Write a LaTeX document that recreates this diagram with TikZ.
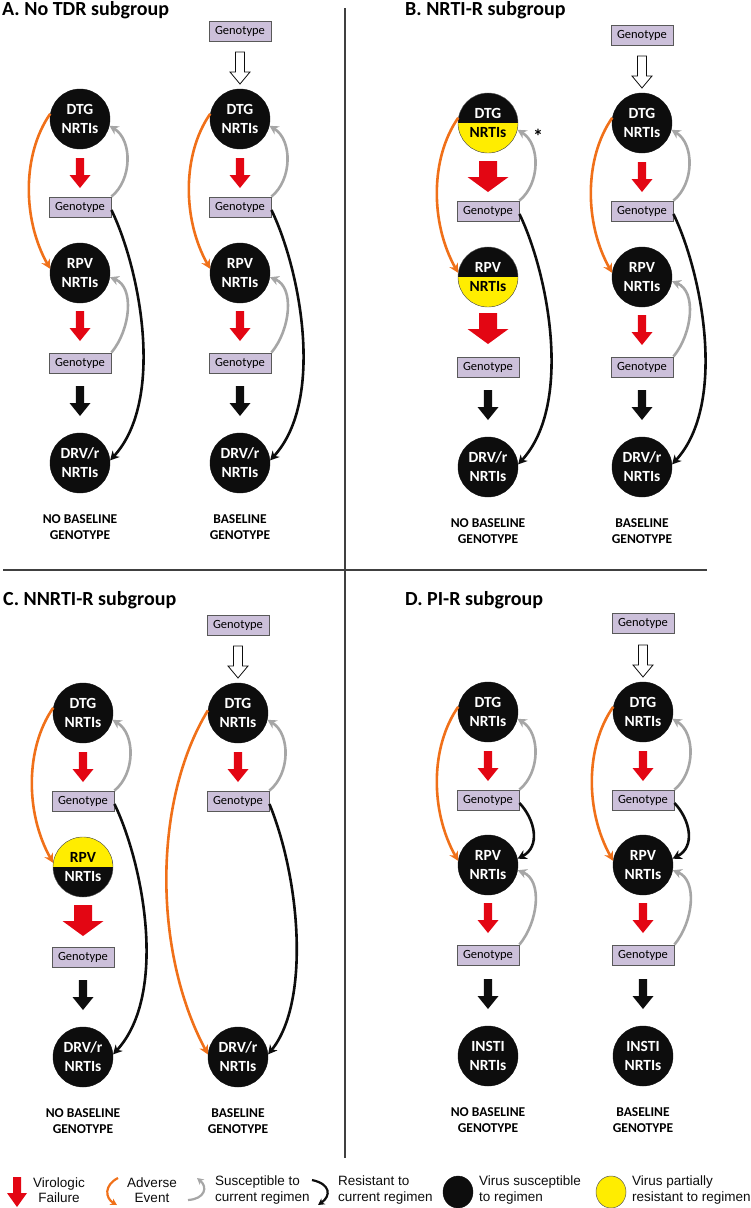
\documentclass[tikz,border=0pt]{standalone}
\usepackage{fontspec}
\setmainfont{Carlito}
\newfontfamily\legfont{Liberation Sans}
\usetikzlibrary{arrows.meta,calc,shapes.geometric}
\definecolor{vred}{RGB}{227,6,19}
\definecolor{vorange}{RGB}{240,112,25}
\definecolor{vgray}{RGB}{166,166,166}
\definecolor{vlav}{RGB}{204,192,218}
\definecolor{vbord}{RGB}{89,89,89}
\definecolor{vyellow}{RGB}{255,237,0}
\definecolor{vblack}{RGB}{13,13,13}
\definecolor{vline}{RGB}{64,64,64}
\tikzset{
 drug/.style={circle, minimum size=60pt, inner sep=0pt, fill=vblack, draw=vblack, line width=0.4pt,
   text=white, align=center, font=\fontsize{15.5}{19}\selectfont\bfseries},
 halfbot/.style={drug, draw=vbord, path picture={\fill[vyellow] (path picture bounding box.south west) rectangle (path picture bounding box.east);}},
 halftop/.style={drug, draw=vbord, path picture={\fill[vyellow] (path picture bounding box.north west) rectangle (path picture bounding box.east);}},
 geno/.style={rectangle, draw=vbord, fill=vlav, line width=0.9pt, minimum width=62pt, minimum height=20pt,
   inner sep=0pt, font=\fontsize{12.5}{14}\selectfont},
 paneltitle/.style={anchor=base west, inner sep=0pt, font=\fontsize{20}{24}\selectfont\bfseries},
 baselab/.style={align=center, inner sep=0pt, font=\fontsize{13.5}{16}\selectfont\bfseries},
 conn/.style={line width=2.6pt, -{Stealth[length=9pt,width=9.5pt,inset=2.8pt]}},
 ae/.style={conn, draw=vorange, color=vorange},
 sus/.style={conn, draw=vgray, color=vgray},
 res/.style={conn, draw=vblack, color=vblack},
 divline/.style={draw=vline, line width=1.8pt},
 legtxt/.style={inner sep=0pt, text=vblack, font=\legfont\fontsize{13.5}{15.5}\selectfont},
 pics/vfa/.style={code={\fill[vred] (-4.2,0)--(4.2,0)--(4.2,17)--(10.5,17)--(0,30)--(-10.5,17)--(-4.2,17)--cycle;}},
 pics/vfbig/.style={code={\fill[vred] (-9,0)--(9,0)--(9,16)--(20.5,16)--(0,31)--(-20.5,16)--(-9,16)--cycle;}},
 pics/nxt/.style={code={\fill[vblack] (-4.2,0)--(4.2,0)--(4.2,17)--(10.5,17)--(0,30)--(-10.5,17)--(-4.2,17)--cycle;}},
 pics/hollowarr/.style={code={\draw[vblack, fill=white, line width=0.8pt] (-4.5,0)--(4.5,0)--(4.5,20)--(10,20)--(0,32)--(-10,20)--(-4.5,20)--cycle;}},
 pics/legvf/.style={code={\fill[vred] (-4,0)--(4,0)--(4,16)--(10,16)--(0,30)--(-10,16)--(-4,16)--cycle;}},
}
\begin{document}
\begin{tikzpicture}[x=1pt,y=-1pt]
\useasboundingbox (0,0) rectangle (750,1208);

% dividers
\draw[divline] (345,8) -- (345,1158);
\draw[divline] (3,570) -- (707,570);

% ---------------- Panel A ----------------
\node[paneltitle] (tA) at (2,15) {A. No TDR subgroup};
% left column
\node[drug] (al1) at (80,119) {DTG\\NRTIs};
\pic at (80,158) {vfa};
\node[geno] (alg1) at (80,207) {Genotype};
\node[drug] (al2) at (80,273) {RPV\\NRTIs};
\pic at (80,311) {vfa};
\node[geno] (alg2) at (80,363) {Genotype};
\pic at (80,386) {nxt};
\node[drug] (al3) at (80,463) {DRV/r\\NRTIs};
\node[baselab] (allab) at (80,527) {NO BASELINE\\GENOTYPE};
\draw[ae] (al1.170) .. controls +(-28,40) and +(-28,-50) .. (al2.172);
\draw[sus] (alg1.north east) .. controls +(21,-17) and +(23,14) .. (al1.-13);
\draw[res] ([yshift=-3pt]alg1.east) .. controls +(29,60) and +(55,-60) .. (al3.5);
\draw[sus] (alg2.north east) .. controls +(19,-23) and +(25,10) .. (al2.-8);
% right column
\node[geno] (ar0) at (240,31) {Genotype};
\pic at (240,52) {hollowarr};
\node[drug] (ar1) at (240,119) {DTG\\NRTIs};
\pic at (240,158) {vfa};
\node[geno] (arg1) at (240,207) {Genotype};
\node[drug] (ar2) at (240,273) {RPV\\NRTIs};
\pic at (240,311) {vfa};
\node[geno] (arg2) at (240,363) {Genotype};
\pic at (240,386) {nxt};
\node[drug] (ar3) at (240,463) {DRV/r\\NRTIs};
\node[baselab] (arlab) at (240,527) {BASELINE\\GENOTYPE};
\draw[ae] (ar1.170) .. controls +(-28,40) and +(-28,-50) .. (ar2.172);
\draw[sus] (arg1.north east) .. controls +(21,-17) and +(23,14) .. (ar1.-13);
\draw[res] ([yshift=-3pt]arg1.east) .. controls +(29,60) and +(55,-60) .. (ar3.5);
\draw[sus] (arg2.north east) .. controls +(19,-23) and +(25,10) .. (ar2.-8);

% ---------------- Panel B ----------------
\node[paneltitle] (tB) at (405,15) {B. NRTI-R subgroup};
% left column
\node[halfbot] (bl1) at (488,123) {DTG\\\color{black}NRTIs};
\pic at (488,161) {vfbig};
\node[geno] (blg1) at (488,211) {Genotype};
\node[halfbot] (bl2) at (488,277) {RPV\\\color{black}NRTIs};
\pic at (488,313) {vfbig};
\node[geno] (blg2) at (488,367) {Genotype};
\pic at (488,390) {nxt};
\node[drug] (bl3) at (488,467) {DRV/r\\NRTIs};
\node[baselab] (bllab) at (488,531) {NO BASELINE\\GENOTYPE};
\draw[ae] (bl1.170) .. controls +(-28,40) and +(-28,-50) .. (bl2.172);
\draw[sus] (blg1.north east) .. controls +(21,-17) and +(23,14) .. (bl1.-13);
\draw[res] ([yshift=-3pt]blg1.east) .. controls +(29,60) and +(55,-60) .. (bl3.5);
\node[inner sep=0pt, font=\fontsize{20}{20}\selectfont\bfseries] (ast) at (538,136) {*};
% right column
\node[geno] (br0) at (642,35) {Genotype};
\pic at (642,56) {hollowarr};
\node[drug] (br1) at (642,123) {DTG\\NRTIs};
\pic at (642,162) {vfa};
\node[geno] (brg1) at (642,211) {Genotype};
\node[drug] (br2) at (642,277) {RPV\\NRTIs};
\pic at (642,315) {vfa};
\node[geno] (brg2) at (642,367) {Genotype};
\pic at (642,390) {nxt};
\node[drug] (br3) at (642,467) {DRV/r\\NRTIs};
\node[baselab] (brlab) at (642,531) {BASELINE\\GENOTYPE};
\draw[ae] (br1.170) .. controls +(-28,40) and +(-28,-50) .. (br2.172);
\draw[sus] (brg1.north east) .. controls +(21,-17) and +(23,14) .. (br1.-13);
\draw[res] ([yshift=-3pt]brg1.east) .. controls +(29,60) and +(55,-60) .. (br3.5);
\draw[sus] (brg2.north east) .. controls +(19,-23) and +(25,10) .. (br2.-8);

% ---------------- Panel C ----------------
\node[paneltitle] (tC) at (3,605) {C. NNRTI-R subgroup};
% left column
\node[drug] (cl1) at (83,713) {DTG\\NRTIs};
\pic at (83,752) {vfa};
\node[geno] (clg1) at (83,801) {Genotype};
\node[halftop] (cl2) at (83,867) {\color{black}RPV\\\color{white}NRTIs};
\pic at (83,905) {vfbig};
\node[geno] (clg2) at (83,957) {Genotype};
\pic at (83,980) {nxt};
\node[drug] (cl3) at (83,1057) {DRV/r\\NRTIs};
\node[baselab] (cllab) at (83,1121) {NO BASELINE\\GENOTYPE};
\draw[ae] (cl1.170) .. controls +(-28,40) and +(-28,-50) .. (cl2.172);
\draw[sus] (clg1.north east) .. controls +(21,-17) and +(23,14) .. (cl1.-13);
\draw[res] ([yshift=-3pt]clg1.east) .. controls +(29,60) and +(55,-60) .. (cl3.5);
% right column
\node[geno] (cr0) at (238,625) {Genotype};
\pic at (238,646) {hollowarr};
\node[drug] (cr1) at (238,713) {DTG\\NRTIs};
\pic at (238,752) {vfa};
\node[geno] (crg1) at (238,801) {Genotype};
\node[drug] (cr3) at (238,1057) {DRV/r\\NRTIs};
\node[baselab] (crlab) at (238,1121) {BASELINE\\GENOTYPE};
\draw[ae] (cr1.175) .. controls +(-55,90) and +(-55,-103) .. (cr3.175);
\draw[sus] (crg1.north east) .. controls +(21,-17) and +(23,14) .. (cr1.-13);
\draw[res] ([yshift=-3pt]crg1.east) .. controls +(31,76) and +(42,-52) .. (cr3.5);

% ---------------- Panel D ----------------
\node[paneltitle] (tD) at (405,605) {D. PI-R subgroup};
% left column
\node[drug] (dl1) at (488,712) {DTG\\NRTIs};
\pic at (488,751) {vfa};
\node[geno] (dlg1) at (488,800) {Genotype};
\node[drug] (dl2) at (488,865) {RPV\\NRTIs};
\pic at (488,903) {vfa};
\node[geno] (dlg2) at (488,955) {Genotype};
\pic at (488,979) {nxt};
\node[drug] (dl3) at (488,1056) {INSTI\\NRTIs};
\node[baselab] (dllab) at (488,1120) {NO BASELINE\\GENOTYPE};
\draw[ae] (dl1.170) .. controls +(-28,40) and +(-28,-50) .. (dl2.172);
\draw[sus] (dlg1.north east) .. controls +(21,-17) and +(23,14) .. (dl1.-13);
\draw[res] ([yshift=-3pt]dlg1.east) .. controls +(16,17) and +(23,-12) .. (dl2.12);
\draw[sus] (dlg2.north east) .. controls +(19,-23) and +(25,10) .. (dl2.-10);
% right column
\node[geno] (dr0) at (643,623) {Genotype};
\pic at (643,645) {hollowarr};
\node[drug] (dr1) at (643,712) {DTG\\NRTIs};
\pic at (643,751) {vfa};
\node[geno] (drg1) at (643,800) {Genotype};
\node[drug] (dr2) at (643,865) {RPV\\NRTIs};
\pic at (643,903) {vfa};
\node[geno] (drg2) at (643,955) {Genotype};
\pic at (643,979) {nxt};
\node[drug] (dr3) at (643,1056) {INSTI\\NRTIs};
\node[baselab] (drlab) at (643,1120) {BASELINE\\GENOTYPE};
\draw[ae] (dr1.170) .. controls +(-28,40) and +(-28,-50) .. (dr2.172);
\draw[sus] (drg1.north east) .. controls +(21,-17) and +(23,14) .. (dr1.-13);
\draw[res] ([yshift=-3pt]drg1.east) .. controls +(16,17) and +(23,-12) .. (dr2.12);
\draw[sus] (drg2.north east) .. controls +(19,-23) and +(25,10) .. (dr2.-10);

% ---------------- Legend ----------------
\pic at (17,1177) {legvf};
\node[legtxt, align=center] (lg1) at (59,1190) {Virologic\\Failure};
\coordinate (oa) at (118,1178); \coordinate (ob) at (117,1205);
\draw[line width=2.2pt, vorange, -{Stealth[length=6.5pt,width=7pt,inset=2pt]}] (oa) .. controls (104,1185) and (105,1198) .. (ob);
\node[legtxt, align=center] (lg2) at (152,1190) {Adverse\\Event};
\coordinate (ga) at (188,1200); \coordinate (gb) at (197,1178);
\draw[line width=2.2pt, vgray, -{Stealth[length=6.5pt,width=7pt,inset=2pt]}] (ga) .. controls (205,1199) and (208,1187) .. (gb);
\node[legtxt, align=left, anchor=west] (lg3) at (215,1190) {Susceptible to\\current regimen};
\coordinate (ka) at (312,1180); \coordinate (kb) at (318,1205);
\draw[line width=2.2pt, vblack, -{Stealth[length=6.5pt,width=7pt,inset=2pt]}] (ka) .. controls (331,1184) and (331,1196) .. (kb);
\node[legtxt, align=left, anchor=west] (lg4) at (338,1190) {Resistant to\\current regimen};
\node[ellipse, fill=vblack, draw=vblack, minimum width=30pt, minimum height=32pt, inner sep=0pt] (le1) at (458,1192) {};
\node[legtxt, align=left, anchor=west] (lg5) at (479,1190) {Virus susceptible\\to regimen};
\node[ellipse, fill=vyellow, draw=vbord, line width=0.5pt, minimum width=30pt, minimum height=32pt, inner sep=0pt] (le2) at (611,1192) {};
\node[legtxt, align=left, anchor=west] (lg6) at (632,1190) {Virus partially\\resistant to regimen};
\end{tikzpicture}
\end{document}
